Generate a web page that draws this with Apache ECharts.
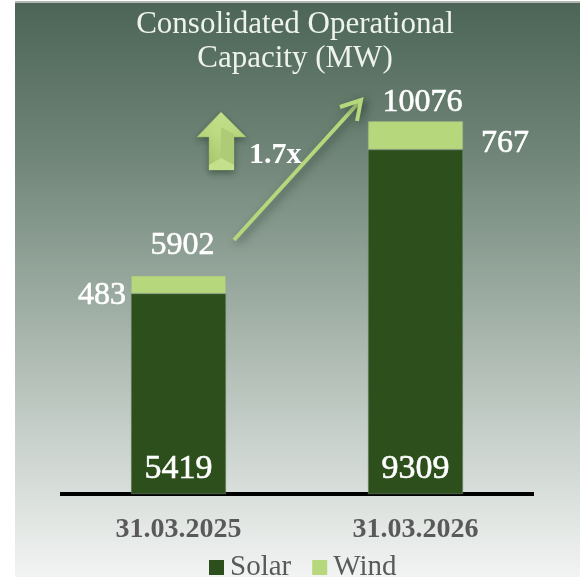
<!DOCTYPE html>
<html>
<head>
<meta charset="utf-8">
<style>
  html, body { margin: 0; padding: 0; background: #fff; overflow: hidden; }
  #main { width: 580px; height: 577px; }
</style>
<script src="https://cdn.jsdelivr.net/npm/echarts@6/dist/echarts.min.js"></script>
</head>
<body>
<div id="main"></div>
<script>
var categories = ['31.03.2025', '31.03.2026'];
var solar = [5419, 9309];
var wind = [483, 767];
var totals = [5902, 10076];

var serif = '"Liberation Serif", serif';
var lime = '#b7d77c';
var chart = echarts.init(document.getElementById('main'));

chart.setOption({
  animation: false,
  title: {
    text: 'Consolidated Operational\nCapacity (MW)',
    left: 290,
    top: 3,
    textAlign: 'center',
    textStyle: { fontFamily: serif, fontSize: 31, fontWeight: 'normal', color: '#eef3ee', lineHeight: 34 }
  },
  legend: {
    data: ['Solar', 'Wind'],
    left: 204,
    top: 548,
    itemWidth: 15,
    itemHeight: 15,
    itemGap: 21,
    icon: 'rect',
    itemStyle: { borderWidth: 0 },
    textStyle: { fontFamily: serif, fontSize: 29, color: '#595959', padding: [0, 0, 0, 1] }
  },
  grid: { left: 60, width: 474, top: 50, height: 444 },
  xAxis: {
    type: 'category',
    data: categories,
    axisLine: { lineStyle: { color: '#000', width: 4, cap: 'butt' } },
    axisTick: { show: false },
    axisLabel: { margin: 22, fontFamily: serif, fontSize: 28, fontWeight: 'bold', color: '#595959' }
  },
  yAxis: { type: 'value', min: 0, max: 12000, show: false },
  series: [
    {
      name: 'Solar',
      type: 'bar',
      stack: 'cap',
      barWidth: 95,
      data: solar,
      itemStyle: { color: '#2d4f1c', borderColor: '#7d9482', borderWidth: 0.5 },
      label: {
        show: true, position: 'insideBottom', distance: 8,
        fontFamily: serif, fontSize: 34, color: '#fff',
        textBorderColor: '#fff', textBorderWidth: 0.6
      }
    },
    {
      name: 'Wind',
      type: 'bar',
      stack: 'cap',
      barWidth: 95,
      data: [
        { value: wind[0], label: { position: 'left', distance: 5, offset: [0, 11] } },
        { value: wind[1], label: { position: 'right', distance: 18, offset: [0, 8] } }
      ],
      itemStyle: { color: lime, borderColor: '#8fa88f', borderWidth: 0.5 },
      label: {
        show: true,
        fontFamily: serif, fontSize: 32, color: '#fff',
        textBorderColor: '#fff', textBorderWidth: 0.6
      }
    },
    {
      // 只用来放合计的标签
      name: 'Total',
      type: 'scatter',
      symbolSize: 1,
      itemStyle: { color: 'transparent', opacity: 1 },
      data: [
        { value: totals[0], label: { offset: [4, -9] } },
        { value: totals[1], label: { offset: [7, 3] } }
      ],
      label: {
        show: true, position: 'top',
        fontFamily: serif, fontSize: 32, color: '#fff',
        textBorderColor: '#fff', textBorderWidth: 0.6
      }
    }
  ],
  graphic: [
    {
      type: 'rect', z: -10, silent: true,
      shape: { x: 15, y: 2, width: 565, height: 575 },
      style: {
        fill: new echarts.graphic.LinearGradient(0, 0, 0, 1, [
          { offset: 0, color: '#4c6556' },
          { offset: 0.25, color: '#6d8375' },
          { offset: 0.5, color: '#99a99f' },
          { offset: 0.78, color: '#ccd4cf' },
          { offset: 1, color: '#f2f4f3' }
        ])
      }
    },
    { type: 'rect', z: -9, silent: true, shape: { x: 15, y: 1, width: 565, height: 2 }, style: { fill: '#b4b8b5' } },
    // 增长箭头
    {
      type: 'polyline', z: 5, silent: true,
      shape: { points: [[234, 240], [361, 100]] },
      style: { stroke: lime, lineWidth: 4, shadowBlur: 8, shadowColor: 'rgba(30,50,40,0.55)', shadowOffsetX: 3, shadowOffsetY: 3 }
    },
    {
      type: 'polyline', z: 5, silent: true,
      shape: { points: [[340, 107], [361, 100], [357, 121]] },
      style: { stroke: lime, lineWidth: 4, fill: 'none', shadowBlur: 8, shadowColor: 'rgba(30,50,40,0.55)', shadowOffsetX: 3, shadowOffsetY: 3 }
    },
    // 上箭头图标
    {
      type: 'polygon', z: 5, silent: true,
      shape: { points: [[221, 112], [246, 137], [234, 137], [234, 170], [209, 170], [209, 137], [197, 137]] },
      style: {
        fill: new echarts.graphic.LinearGradient(0, 0, 0, 1, [
          { offset: 0, color: '#c8e58e' },
          { offset: 1, color: '#a9c86e' }
        ]),
        stroke: '#96b363', lineWidth: 0.5,
        shadowBlur: 6, shadowColor: 'rgba(30,50,40,0.5)', shadowOffsetY: 3
      }
    },
    {
      type: 'polygon', z: 6, silent: true,
      shape: { points: [[221, 127], [234, 134], [234, 165], [221, 158]] },
      style: { fill: '#aecb78' }
    },
    {
      type: 'polygon', z: 6, silent: true,
      shape: { points: [[209, 165], [221, 158], [234, 165], [234, 170], [209, 170]] },
      style: { fill: '#c5e08c' }
    },
    {
      type: 'text', z: 7, silent: true,
      x: 249, y: 140,
      style: {
        text: '1.7x', fontFamily: serif, fontSize: 30, fontWeight: 'bold', fill: '#fff'
      }
    }
  ],
  color: ['#2d4f1c', lime]
});
</script>
</body>
</html>
